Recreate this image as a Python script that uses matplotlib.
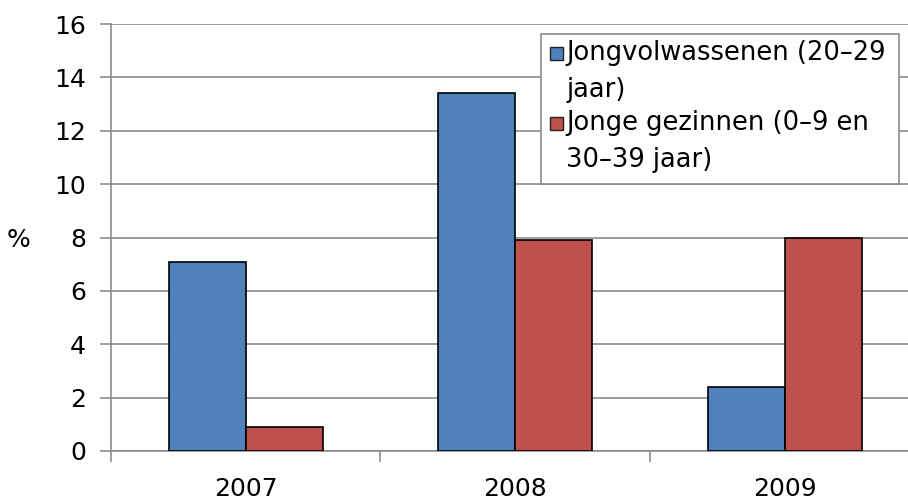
import matplotlib
matplotlib.use("Agg")
import matplotlib.pyplot as plt
from matplotlib.patches import Rectangle
import numpy as np

plt.rcParams['font.family'] = ['DejaVu Sans']

categories = ["2007", "2008", "2009"]
series_names = ["Jongvolwassenen (20–29\njaar)", "Jonge gezinnen (0–9 en\n30–39 jaar)"]
young_adults = [7.1, 13.4, 2.4]
young_families = [0.9, 7.9, 8.0]
y_ticks = [0, 2, 4, 6, 8, 10, 12, 14, 16]

W, H = 908, 501
FS = 18
fig = plt.figure(figsize=(W / 100, H / 100), dpi=100)
ax = fig.add_axes([111 / W, 50 / H, (919.5 - 111) / W, 427 / H])

x = np.arange(len(categories))
bw = 0.286
c_blue = "#4F81BD"
c_red = "#C0504D"
colors = [c_blue, c_red]
ax.bar(x - bw / 2, young_adults, bw, color=c_blue, edgecolor="black", linewidth=1.2, zorder=3)
ax.bar(x + bw / 2, young_families, bw, color=c_red, edgecolor="black", linewidth=1.2, zorder=3)

ax.set_xlim(-0.5, 2.5)
ax.set_ylim(0, 16)
ax.set_yticks(y_ticks)
ax.set_yticklabels([str(v) for v in y_ticks], fontsize=FS)
ax.yaxis.grid(True, color="#8c8c8c", linewidth=1.2, zorder=0)

# category boundary ticks on x axis
ax.set_xticks(np.arange(-0.5, 3.0, 1.0), minor=False)
ax.set_xticklabels([])
ax.set_xticks(x, minor=True)
ax.set_xticklabels(categories, minor=True, fontsize=FS)
ax.tick_params(axis="x", which="minor", length=0, pad=19)
ax.tick_params(axis="x", which="major", length=8, width=1.2, color="#8c8c8c", direction="out")
ax.tick_params(axis="y", length=8, width=1.2, color="#8c8c8c", direction="out", pad=10)

for s in ["top", "right"]:
    ax.spines[s].set_visible(False)
for s in ["left", "bottom"]:
    ax.spines[s].set_color("#8c8c8c")
    ax.spines[s].set_linewidth(1.2)

fig.text(18 / W, 1 - 240 / H, "%", fontsize=FS, ha="center", va="center")

# legend drawn in figure pixel coordinates
def fx(px):
    return px / W

def fy(py):
    return 1 - py / H

fig.patches.append(Rectangle((fx(541), fy(184)), fx(899) - fx(541), fy(34) - fy(184),
                             transform=fig.transFigure, facecolor="white",
                             edgecolor="#8c8c8c", linewidth=1.2, zorder=5))
entry_tops = [53, 123]
line_step = 37
for name, col, yc in zip(series_names, colors, entry_tops):
    fig.patches.append(Rectangle((fx(550), fy(yc + 7)), fx(13), 13 / H,
                                 transform=fig.transFigure, facecolor=col,
                                 edgecolor="#222222", linewidth=1.0, zorder=6))
    for i, line in enumerate(name.split("\n")):
        fig.text(fx(566), fy(yc + i * line_step), line, fontsize=18.5,
                 ha="left", va="center", zorder=7)

fig.savefig("out.png", dpi=100)
